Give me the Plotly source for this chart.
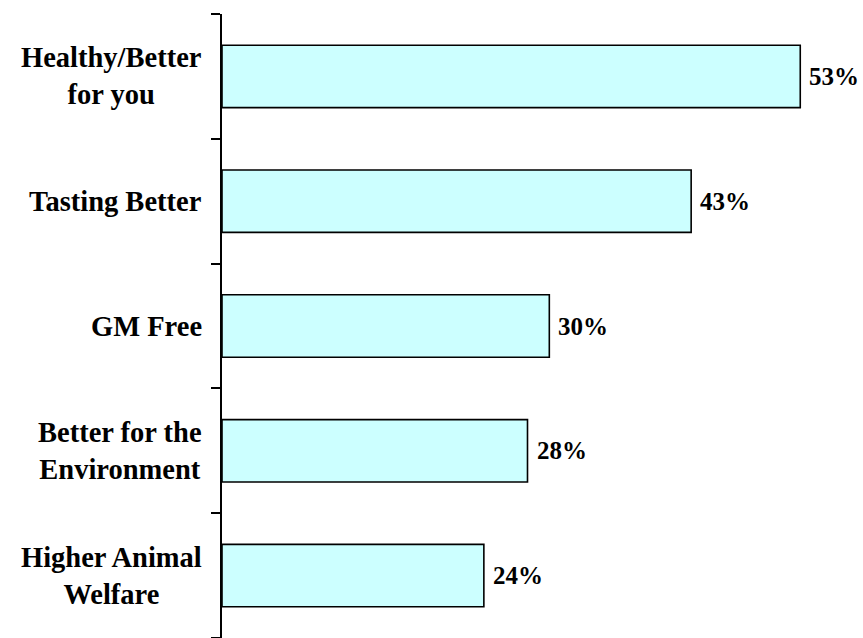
import plotly.graph_objects as go

# Survey reasons, top to bottom, with share of respondents (%)
categories = [
    "Healthy/Better<br>for you",
    "Tasting Better",
    "GM Free",
    "Better for the<br>Environment",
    "Higher Animal<br>Welfare",
]
values = [53, 43, 30, 28, 24]
value_labels = ["53%", "43%", "30%", "28%", "24%"]

positions = list(range(len(categories)))
boundaries = [p - 0.5 for p in positions] + [positions[-1] + 0.5]

FONT = "Liberation Serif"

fig = go.Figure(
    go.Bar(
        x=values,
        y=positions,
        orientation="h",
        width=0.5,
        marker=dict(color="#CCFFFF", line=dict(color="#000000", width=1.6)),
        hoverinfo="skip",
    )
)

annotations = []
for pos, val, lab in zip(positions, values, value_labels):
    annotations.append(dict(
        x=val, y=pos, xref="x", yref="y", text=lab, showarrow=False,
        xanchor="left", yanchor="middle", xshift=7,
        font=dict(family=FONT, size=25, color="#000000", weight="bold"),
    ))
for pos, cat in zip(positions, categories):
    annotations.append(dict(
        x=0, y=pos, xref="paper", yref="y", text=cat, showarrow=False,
        xanchor="right", yanchor="middle", xshift=-18, align="center",
        font=dict(family=FONT, size=28.5, color="#000000", weight="bold"),
    ))

fig.update_layout(
    width=863, height=638,
    margin=dict(l=222, r=0, t=14, b=0),
    plot_bgcolor="#FFFFFF", paper_bgcolor="#FFFFFF",
    showlegend=False,
    bargap=0.5,
    annotations=annotations,
    xaxis=dict(visible=False, range=[0, 58.75]),
    yaxis=dict(
        range=[positions[-1] + 0.5, -0.5],
        tickmode="array", tickvals=boundaries, ticktext=[""] * len(boundaries),
        showticklabels=False,
        ticks="outside", ticklen=9, tickwidth=2, tickcolor="#000000",
        showline=True, linecolor="#000000", linewidth=2,
        showgrid=False, zeroline=False,
    ),
)

fig.write_html("out.html")
